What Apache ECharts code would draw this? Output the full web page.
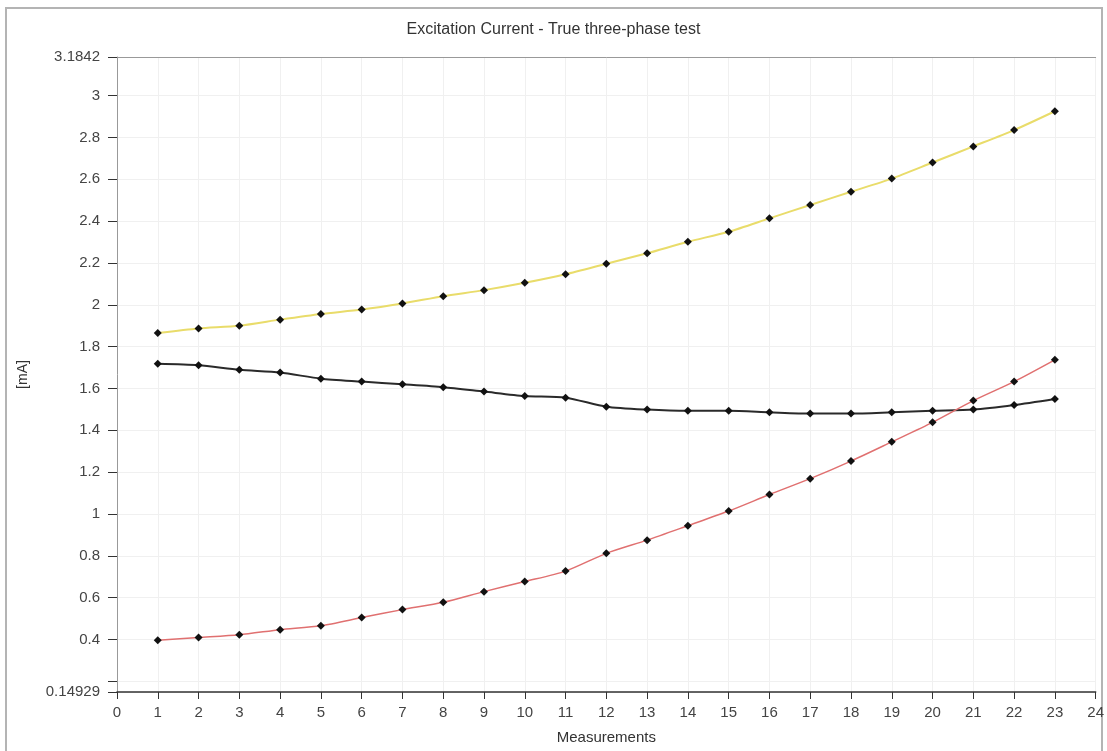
<!DOCTYPE html>
<html>
<head>
<meta charset="utf-8">
<script src="https://cdn.jsdelivr.net/npm/echarts@6/dist/echarts.min.js"></script>
<style>
  html, body { margin: 0; padding: 0; background: #fff; }
  #main { width: 1107px; height: 751px; }
</style>
</head>
<body>
<div id="main"></div>
<script>
// 测量序号
var measurements = [1, 2, 3, 4, 5, 6, 7, 8, 9, 10, 11, 12, 13, 14, 15, 16, 17, 18, 19, 20, 21, 22, 23];
// 三相电流 (mA)
var yellowPhase = [1.865, 1.887, 1.900, 1.929, 1.956, 1.977, 2.006, 2.041, 2.070, 2.105, 2.146, 2.196,
    2.246, 2.301, 2.349, 2.413, 2.477, 2.540, 2.603, 2.680, 2.757, 2.835, 2.925];
var blackPhase = [1.718, 1.711, 1.689, 1.676, 1.647, 1.633, 1.620, 1.606, 1.585, 1.564, 1.556, 1.513,
    1.499, 1.493, 1.493, 1.486, 1.480, 1.480, 1.486, 1.493, 1.499, 1.521, 1.550];
var redPhase = [0.397, 0.410, 0.423, 0.447, 0.466, 0.505, 0.543, 0.578, 0.629, 0.677, 0.727, 0.812,
    0.875, 0.944, 1.014, 1.093, 1.169, 1.253, 1.345, 1.438, 1.542, 1.633, 1.737];
// 纵轴刻度
var yMin = 0.14929, yMax = 3.1842;
var yLabelValues = [0.14929, 0.4, 0.6, 0.8, 1, 1.2, 1.4, 1.6, 1.8, 2, 2.2, 2.4, 2.6, 2.8, 3, 3.1842];
var yTickValues = [0.14929, 0.2, 0.4, 0.6, 0.8, 1, 1.2, 1.4, 1.6, 1.8, 2, 2.2, 2.4, 2.6, 2.8, 3, 3.1842];

function pairs(vals) {
    return measurements.map(function (m, i) { return [m, vals[i]]; });
}

var font = 'Liberation Sans';
var myChart = echarts.init(document.getElementById('main'));

function lineSeries(name, vals, color, width) {
    return {
        name: name,
        type: 'line',
        data: pairs(vals),
        smooth: 0.25,
        symbol: 'diamond',
        symbolSize: 8,
        lineStyle: { color: color, width: width },
        itemStyle: { color: '#111' },
        z: 3
    };
}

var option = {
    backgroundColor: '#fff',
    animation: false,
    graphic: [{
        type: 'rect',
        shape: { x: 6, y: 8, width: 1096, height: 760 },
        style: { fill: 'none', stroke: '#b4b4b4', lineWidth: 2 }
    }],
    title: {
        text: 'Excitation Current - True three-phase test',
        left: 'center',
        top: 17,
        textStyle: { fontFamily: font, fontSize: 16, fontWeight: 'normal', color: '#333' }
    },
    grid: { left: 117, right: 10, top: 57, bottom: 59 },
    xAxis: [{
        type: 'value',
        min: 0,
        max: 24,
        interval: 1,
        name: 'Measurements',
        nameLocation: 'middle',
        nameGap: 38,
        nameTextStyle: { fontFamily: font, fontSize: 15, color: '#333' },
        axisLine: { lineStyle: { color: '#333', width: 1.5 } },
        axisTick: { length: 7, lineStyle: { color: '#333' } },
        axisLabel: { fontFamily: font, fontSize: 15, color: '#444', margin: 13 },
        splitLine: { show: true, lineStyle: { color: '#f0f0f0' } }
    }, {
        type: 'value',
        position: 'top',
        min: 0,
        max: 24,
        axisLine: { show: true, lineStyle: { color: '#999' } },
        axisTick: { show: false },
        axisLabel: { show: false },
        splitLine: { show: false }
    }],
    yAxis: {
        type: 'value',
        min: yMin,
        max: yMax,
        name: '[mA]',
        nameLocation: 'middle',
        nameRotate: 90,
        nameGap: 87,
        nameTextStyle: { fontFamily: font, fontSize: 14, color: '#333' },
        axisLine: { show: true, lineStyle: { color: '#999' } },
        axisTick: { show: true, length: 9, customValues: yTickValues, lineStyle: { color: '#333' } },
        axisLabel: { fontFamily: font, fontSize: 15, color: '#444', margin: 17, customValues: yLabelValues },
        splitLine: { show: true, lineStyle: { color: '#f0f0f0' } }
    },
    series: [
        lineSeries('Phase 1', yellowPhase, '#e9dc6a', 2),
        lineSeries('Phase 2', blackPhase, '#2a2a2a', 2),
        lineSeries('Phase 3', redPhase, '#e07070', 1.5)
    ]
};
myChart.setOption(option);
</script>
</body>
</html>
